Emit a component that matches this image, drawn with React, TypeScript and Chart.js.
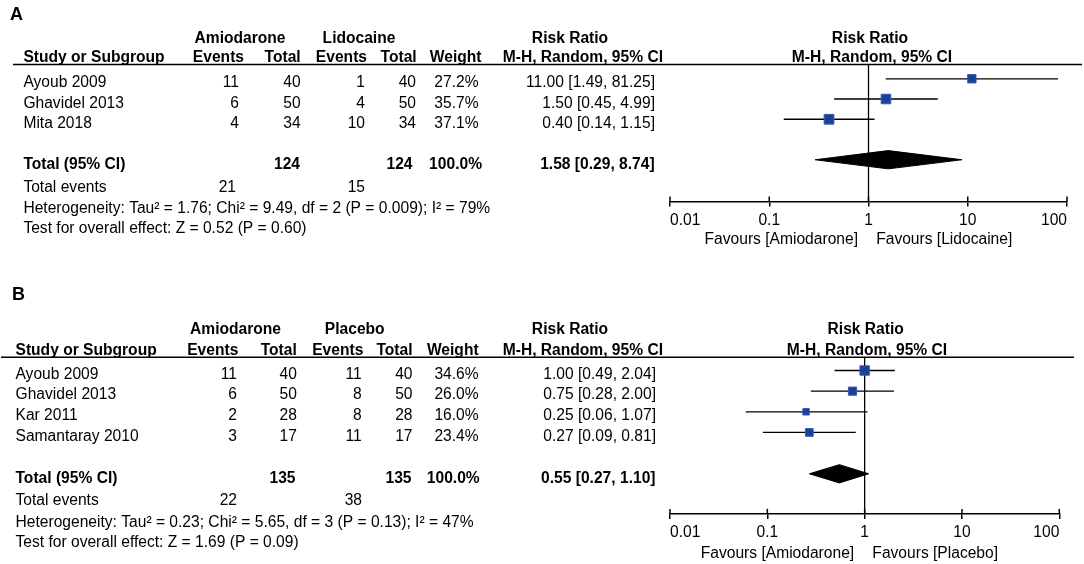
import React, { useEffect, useRef } from 'react';
import { Chart, registerables } from 'chart.js';

Chart.register(...registerables);

// ---------------- Panel A data ----------------
const labelA = 'A';
const groupsA = ['Amiodarone', 'Lidocaine'];
const studiesA = ['Ayoub 2009', 'Ghavidel 2013', 'Mita 2018'];
const amioEventsA = [11, 6, 4];
const amioTotalA = [40, 50, 34];
const compEventsA = [1, 4, 10];
const compTotalA = [40, 50, 34];
const weightA = [27.2, 35.7, 37.1];
const rrA = [11.0, 1.5, 0.4];
const lowA = [1.49, 0.45, 0.14];
const highA = [81.25, 4.99, 1.15];
const pooledA = [1.58, 0.29, 8.74]; // estimate, lower, upper
const totalsA = [124, 124];
const totalEventsA = [21, 15];
const statsA = [
  'Heterogeneity: Tau\u00b2 = 1.76; Chi\u00b2 = 9.49, df = 2 (P = 0.009); I\u00b2 = 79%',
  'Test for overall effect: Z = 0.52 (P = 0.60)',
];
const favoursA = ['Favours [Amiodarone]', 'Favours [Lidocaine]'];

// ---------------- Panel B data ----------------
const labelB = 'B';
const groupsB = ['Amiodarone', 'Placebo'];
const studiesB = ['Ayoub 2009', 'Ghavidel 2013', 'Kar 2011', 'Samantaray 2010'];
const amioEventsB = [11, 6, 2, 3];
const amioTotalB = [40, 50, 28, 17];
const compEventsB = [11, 8, 8, 11];
const compTotalB = [40, 50, 28, 17];
const weightB = [34.6, 26.0, 16.0, 23.4];
const rrB = [1.0, 0.75, 0.25, 0.27];
const lowB = [0.49, 0.28, 0.06, 0.09];
const highB = [2.04, 2.0, 1.07, 0.81];
const pooledB = [0.55, 0.27, 1.1];
const totalsB = [135, 135];
const totalEventsB = [22, 38];
const statsB = [
  'Heterogeneity: Tau\u00b2 = 0.23; Chi\u00b2 = 5.65, df = 3 (P = 0.13); I\u00b2 = 47%',
  'Test for overall effect: Z = 1.69 (P = 0.09)',
];
const favoursB = ['Favours [Amiodarone]', 'Favours [Placebo]'];

// ---------------- shared labels ----------------
const columnHeaders = ['Study or Subgroup', 'Events', 'Total', 'Events', 'Total', 'Weight', 'M-H, Random, 95% CI'];
const effectHeader = 'Risk Ratio';
const totalLabel = 'Total (95% CI)';
const totalEventsLabel = 'Total events';
const tickValues = [0.01, 0.1, 1, 10, 100];
const tickLabels = ['0.01', '0.1', '1', '10', '100'];

const FONT = '"Liberation Sans", Arial, Helvetica, sans-serif';
const FS = 15.6;
const W = 1084;
const H = 282;

type Panel = {
  label: string; groups: string[]; studies: string[];
  ev1: number[]; tot1: number[]; ev2: number[]; tot2: number[];
  weight: number[]; rr: number[]; low: number[]; high: number[];
  pooled: number[]; totals: number[]; totalEvents: number[]; stats: string[]; favours: string[];
  L: any;
};

const panelA: Panel = {
  label: labelA, groups: groupsA, studies: studiesA,
  ev1: amioEventsA, tot1: amioTotalA, ev2: compEventsA, tot2: compTotalA,
  weight: weightA, rr: rrA, low: lowA, high: highA, pooled: pooledA,
  totals: totalsA, totalEvents: totalEventsA, stats: statsA, favours: favoursA,
  L: {
    top: 0, labelX: 10, labelY: 15,
    groupY: 38.3, headerY: 57.5, lineY: 64.5, lineX0: 13, lineX1: 1082,
    studyX: 23.4, textY0: 82.8, textStep: 20.4,
    totalY: 164.3, eventsY: 187.5, hetY: 208.2, testY: 228.3,
    markerY0: 78.9, markerStep: 20.4, totalRow: 4,
    axisY: 202.7, plotLeft: 670, plotRight: 1067, favoursY: 240,
    headRight: [244, 300.7, 367, 416.7, 481.5, 663],
    dataRight: [239, 300.7, 365, 416, 478.5, 655],
    totalRight: [300, 412.5, 482, 654.6],
    eventsRight: [236, 365],
    groupCenters: [240, 359], rrCenter: 570, forestRR: 870, forestMH: 872,
  },
};

const panelB: Panel = {
  label: labelB, groups: groupsB, studies: studiesB,
  ev1: amioEventsB, tot1: amioTotalB, ev2: compEventsB, tot2: compTotalB,
  weight: weightB, rr: rrB, low: lowB, high: highB, pooled: pooledB,
  totals: totalsB, totalEvents: totalEventsB, stats: statsB, favours: favoursB,
  L: {
    top: 282, labelX: 12, labelY: 295,
    groupY: 330, headerY: 350.3, lineY: 357.3, lineX0: 1, lineX1: 1074,
    studyX: 15.5, textY0: 374.2, textStep: 20.9,
    totalY: 478.6, eventsY: 501, hetY: 523, testY: 543,
    markerY0: 370.6, markerStep: 20.8, totalRow: 5,
    axisY: 515, plotLeft: 670, plotRight: 1059.3, favoursY: 553.3,
    headRight: [238.3, 296.8, 363.3, 412.5, 478.6, 663],
    dataRight: [236.9, 296.8, 361.6, 412.5, 478.6, 656],
    totalRight: [295.5, 411.5, 479.7, 655.5],
    eventsRight: [237, 362],
    groupCenters: [235.5, 354.7], rrCenter: 570, forestRR: 865.7, forestMH: 867,
  },
};

const fmtCI = (e: number, l: number, h: number) => `${e.toFixed(2)} [${l.toFixed(2)}, ${h.toFixed(2)}]`;

function makeConfig(p: Panel): any {
  const L = p.L;
  const o = L.top;
  const yMin = (L.lineY - L.markerY0) / L.markerStep;
  const yMax = (L.axisY - L.markerY0) / L.markerStep;
  const tickLen = 5;
  const tickPad = 4.3;
  const axisH = tickLen + tickPad + FS * 1.2 + 3.2;
  const half = 9.2 / L.markerStep;
  const tr = L.totalRow;

  const datasets: any[] = [
    {
      type: 'scatter',
      data: p.rr.map((v, i) => ({ x: v, y: i })),
      pointStyle: 'rect',
      pointRadius: p.weight.map((w) => 1.13 * Math.sqrt(w)),
      backgroundColor: '#1c3f99',
      borderColor: '#3558b4',
      borderWidth: 1,
      order: 0,
    },
    ...p.low.map((lo, i) => ({
      type: 'line',
      data: [{ x: lo, y: i }, { x: p.high[i], y: i }],
      borderColor: '#000',
      borderWidth: 1.3,
      pointRadius: 0,
      fill: false,
      order: 1,
    })),
    {
      type: 'line',
      data: [
        { x: p.pooled[1], y: tr },
        { x: p.pooled[0], y: tr - half },
        { x: p.pooled[2], y: tr },
        { x: p.pooled[0], y: tr + half },
        { x: p.pooled[1], y: tr },
      ],
      borderColor: '#000',
      backgroundColor: '#000',
      borderWidth: 1,
      pointRadius: 0,
      tension: 0,
      fill: 'shape',
      order: 2,
    },
    {
      type: 'line',
      data: [{ x: 1, y: yMin }, { x: 1, y: yMax }],
      borderColor: '#000',
      borderWidth: 1.3,
      pointRadius: 0,
      fill: false,
      order: 3,
    },
  ];

  const textPlugin = {
    id: 'forestText' + p.label,
    afterDraw(chart: any) {
      const ctx: CanvasRenderingContext2D = chart.ctx;
      const xs = chart.scales.x;
      const bottom = chart.chartArea.bottom;
      ctx.save();
      ctx.fillStyle = '#000';
      ctx.strokeStyle = '#000';
      ctx.textBaseline = 'middle';
      const t = (s: string, x: number, y: number, align: CanvasTextAlign, bold = false, size = FS) => {
        ctx.font = `${bold ? 'bold ' : ''}${size}px ${FONT}`;
        ctx.textAlign = align;
        ctx.fillText(s, x, y - o);
      };
      // panel label
      t(p.label, L.labelX, L.labelY, 'left', true, 18);
      // group headers
      t(p.groups[0], L.groupCenters[0], L.groupY, 'center', true);
      t(p.groups[1], L.groupCenters[1], L.groupY, 'center', true);
      t(effectHeader, L.rrCenter, L.groupY, 'center', true);
      t(effectHeader, L.forestRR, L.groupY, 'center', true);
      // column headers
      t(columnHeaders[0], L.studyX, L.headerY, 'left', true);
      for (let c = 1; c <= 6; c++) t(columnHeaders[c], L.headRight[c - 1], L.headerY, 'right', true);
      t(columnHeaders[6], L.forestMH, L.headerY, 'center', true);
      // header line
      ctx.lineWidth = 1.5;
      ctx.beginPath();
      ctx.moveTo(L.lineX0, L.lineY - o);
      ctx.lineTo(L.lineX1, L.lineY - o);
      ctx.stroke();
      // study rows
      p.studies.forEach((s, i) => {
        const y = L.textY0 + L.textStep * i;
        t(s, L.studyX, y, 'left');
        t(String(p.ev1[i]), L.dataRight[0], y, 'right');
        t(String(p.tot1[i]), L.dataRight[1], y, 'right');
        t(String(p.ev2[i]), L.dataRight[2], y, 'right');
        t(String(p.tot2[i]), L.dataRight[3], y, 'right');
        t(p.weight[i].toFixed(1) + '%', L.dataRight[4], y, 'right');
        t(fmtCI(p.rr[i], p.low[i], p.high[i]), L.dataRight[5], y, 'right');
      });
      // totals
      t(totalLabel, L.studyX, L.totalY, 'left', true);
      t(String(p.totals[0]), L.totalRight[0], L.totalY, 'right', true);
      t(String(p.totals[1]), L.totalRight[1], L.totalY, 'right', true);
      t('100.0%', L.totalRight[2], L.totalY, 'right', true);
      t(fmtCI(p.pooled[0], p.pooled[1], p.pooled[2]), L.totalRight[3], L.totalY, 'right', true);
      t(totalEventsLabel, L.studyX, L.eventsY, 'left');
      t(String(p.totalEvents[0]), L.eventsRight[0], L.eventsY, 'right');
      t(String(p.totalEvents[1]), L.eventsRight[1], L.eventsY, 'right');
      t(p.stats[0], L.studyX, L.hetY, 'left');
      t(p.stats[1], L.studyX, L.testY, 'left');
      // upper halves of axis ticks
      ctx.lineWidth = 1.5;
      tickValues.forEach((v) => {
        const x = xs.getPixelForValue(v);
        ctx.beginPath();
        ctx.moveTo(x, bottom - 5);
        ctx.lineTo(x, bottom);
        ctx.stroke();
      });
      // favours labels
      const x1 = xs.getPixelForValue(1);
      t(p.favours[0], x1 - 10.5, L.favoursY, 'right');
      t(p.favours[1], x1 + 7.7, L.favoursY, 'left');
      ctx.restore();
    },
  };

  return {
    type: 'scatter',
    data: { datasets },
    options: {
      responsive: false,
      animation: false,
      events: [],
      devicePixelRatio: 1,
      layout: {
        padding: {
          left: L.plotLeft,
          right: W - L.plotRight,
          top: L.lineY - o,
          bottom: H - (L.axisY - o) - axisH,
        },
      },
      plugins: { legend: { display: false }, tooltip: { enabled: false } },
      scales: {
        x: {
          type: 'logarithmic',
          position: 'bottom',
          min: 0.01,
          max: 100,
          afterBuildTicks: (s: any) => {
            s.ticks = tickValues.map((v) => ({ value: v }));
          },
          ticks: {
            callback: (_v: any, i: number) => tickLabels[i],
            font: { family: FONT, size: FS },
            color: '#000',
            padding: tickPad,
            align: 'inner',
            autoSkip: false,
            maxRotation: 0,
            minRotation: 0,
          },
          grid: { drawOnChartArea: false, drawTicks: true, tickLength: tickLen, color: '#000', lineWidth: 1.5 },
          border: { display: true, color: '#000', width: 1.5 },
        },
        y: { type: 'linear', display: false, min: yMin, max: yMax, reverse: true },
      },
    },
    plugins: [textPlugin],
  };
}

export default function App() {
  const refA = useRef<HTMLCanvasElement>(null);
  const refB = useRef<HTMLCanvasElement>(null);
  useEffect(() => {
    document.body.style.margin = '0';
    const charts = [new Chart(refA.current as any, makeConfig(panelA)), new Chart(refB.current as any, makeConfig(panelB))];
    return () => charts.forEach((c) => c.destroy());
  }, []);
  const cs: React.CSSProperties = { display: 'block', width: W, height: H };
  return (
    <div style={{ width: W, height: 2 * H, background: '#fff' }}>
      <canvas ref={refA} width={W} height={H} style={cs} />
      <canvas ref={refB} width={W} height={H} style={cs} />
    </div>
  );
}
